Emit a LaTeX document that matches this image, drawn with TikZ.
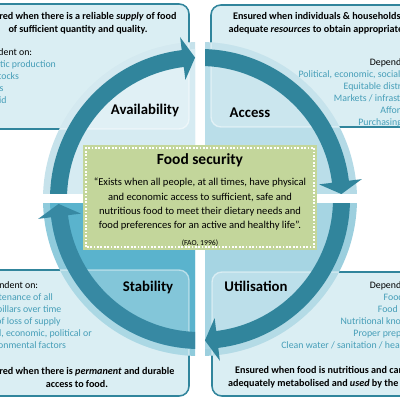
\documentclass[tikz,border=0pt]{standalone}
\usepackage{fontspec}
\setmainfont{Carlito}
\usetikzlibrary{calc}
\definecolor{ringTeal}{HTML}{31859C}
\definecolor{stabTeal}{HTML}{3789A3}
\definecolor{boxFill}{HTML}{DAEEF3}
\definecolor{listTeal}{RGB}{70,158,184}
\definecolor{availFill}{HTML}{D6EBF2}
\definecolor{availHalo}{HTML}{C6E2EB}
\definecolor{accessFill}{HTML}{BAdEE9}
\definecolor{accessHalo}{HTML}{B4DAE6}
\definecolor{utilFill}{HTML}{A6D5E3}
\definecolor{utilHalo}{HTML}{9CCFDE}
\definecolor{stabFill}{HTML}{5AB3CD}
\definecolor{stabHalo}{HTML}{8FCBDC}
\definecolor{fsGreen}{HTML}{C3D69B}

% one quarter of the arrow ring: #1 start angle, #2 end angle (clockwise)
\newcommand{\ringarrow}[3][ringTeal]{%
  \fill[#1] (#2:133) arc[start angle=#2, end angle=#3+7, radius=133]
    -- (#3+7:120) -- (#3+2:141.5) -- (#3+7:163) -- (#3+7:150)
    arc[start angle=#3+7, end angle=#2, radius=150] -- cycle;}

\begin{document}
\begin{tikzpicture}[x=0.025cm, y=0.025cm,
    box/.style={draw=ringTeal, line width=1.1pt, fill=boxFill, rounded corners=7pt},
    glass/.style={draw=white, draw opacity=0.5, line width=1pt, fill=white,
      fill opacity=0.25, rounded corners=7pt},
    head/.style={font=\fontsize{7.2}{9.2}\selectfont\bfseries, align=center, inner sep=0pt},
    dep/.style={font=\fontsize{7}{8.5}\selectfont, inner sep=0pt},
    pillar/.style={font=\fontsize{10.5}{12}\selectfont\bfseries, inner sep=0pt}
  ]
    \useasboundingbox (-200,-201) rectangle (200,199);
    \clip (-200,-201) rectangle (200,199);

    % corner boxes
    \draw[box] (-245,70) rectangle (-11,195);
    \draw[box] (11,72) rectangle (245,194);
    \draw[box] (-245,-197) rectangle (-11,-71);
    \draw[box] (12,-197) rectangle (245,-73);

    % Availability quadrant
    \begin{scope}
      \clip (-200,5) rectangle (-5,199);
      \fill[availHalo] (0,0) circle[radius=157];
      \fill[availFill] (0,0) circle[radius=150];
      \begin{scope}
        \clip (0,0) circle[radius=157];
        \draw[glass] (-245,70) rectangle (-11,195);
      \end{scope}
      \ringarrow{180}{90}
    \end{scope}

    % Access quadrant
    \begin{scope}
      \clip (5,5) rectangle (200,199);
      \fill[accessHalo] (0,0) circle[radius=157];
      \fill[accessFill] (0,0) circle[radius=150];
      \begin{scope}
        \clip (0,0) circle[radius=157];
        \draw[glass] (11,72) rectangle (245,194);
      \end{scope}
      \ringarrow{90}{0}
    \end{scope}

    % Utilisation quadrant
    \begin{scope}
      \clip (5,-5) rectangle (200,-201);
      \fill[utilHalo] (0,0) circle[radius=157];
      \fill[utilFill] (0,0) circle[radius=150];
      \begin{scope}
        \clip (0,0) circle[radius=157];
        \draw[glass] (12,-197) rectangle (245,-73);
      \end{scope}
      \ringarrow{0}{-90}
    \end{scope}

    % Stability quadrant
    \begin{scope}
      \clip (-200,-5) rectangle (-5,-201);
      \fill[stabHalo] (0,0) circle[radius=157];
      \fill[stabFill] (0,0) circle[radius=150];
      \begin{scope}
        \clip (0,0) circle[radius=157];
        \draw[glass] (-245,-197) rectangle (-11,-71);
      \end{scope}
      \ringarrow[stabTeal]{-90}{-180}
    \end{scope}

    % pillar labels
    \node[pillar] (avail) at (-55,89) {Availability};
    \node[pillar] (access) at (50,86) {Access};
    \node[pillar] (util) at (56,-87) {Utilisation};
    \node[pillar] (stab) at (-52,-88) {Stability};

    % box texts
    \node[head] (availHead) at (-122,175.5)
      {Ensured when there is a reliable \textit{supply} of food\\of sufficient quantity and quality.};
    \node[dep, anchor=west, align=left] (availDep) at (-228,122.5)
      {Dependent on:\\\textcolor{listTeal}{Domestic production}\\\textcolor{listTeal}{Food stocks}\\
       \textcolor{listTeal}{Imports}\\\textcolor{listTeal}{Food aid}};

    \node[head] (accessHead) at (128,175.5)
      {Ensured when individuals \& households have\\adequate \textit{resources} to obtain appropriate food.};
    \node[dep, anchor=east, align=right] (accessDep) at (230,106)
      {Dependent on:\\\textcolor{listTeal}{Political, economic, social factors}\\
       \textcolor{listTeal}{Equitable distribution}\\\textcolor{listTeal}{Markets / infrastructure}\\
       \textcolor{listTeal}{Affordability}\\\textcolor{listTeal}{Purchasing power}};

    \node[dep, anchor=west, align=left] (stabDep) at (-222,-116)
      {Dependent on:\\\textcolor{listTeal}{Maintenance of all}\\\textcolor{listTeal}{four pillars over time}\\
       \textcolor{listTeal}{Risk of loss of supply}\\\textcolor{listTeal}{Social, economic, political or}\\
       \textcolor{listTeal}{environmental factors}};
    \node[head] (stabHead) at (-123,-178.5)
      {Ensured when there is \textit{permanent} and durable\\access to food.};

    \node[dep, anchor=east, align=right] (utilDep) at (230,-116)
      {Dependent on:\\\textcolor{listTeal}{Food safety}\\\textcolor{listTeal}{Food choices}\\
       \textcolor{listTeal}{Nutritional knowledge}\\\textcolor{listTeal}{Proper preparation}\\
       \textcolor{listTeal}{Clean water / sanitation / health care}};
    \node[head] (utilHead) at (126,-178)
      {Ensured when food is nutritious and can be\\adequately metabolised and \textit{used} by the body.};

    % food security definition
    \fill[fsGreen] (-117,-51) rectangle (117,54);
    \draw[white, line width=1.2pt, dash pattern=on 1.2pt off 1.2pt] (-114,-48) rectangle (114,51);
    \node[font=\fontsize{11}{13}\selectfont\bfseries, inner sep=0pt] (fsTitle) at (0,39) {Food security};
    \node[font=\fontsize{7.5}{10.2}\selectfont, align=center, inner sep=0pt] (fsDef) at (0,-5.5)
      {“Exists when all people, at all times, have physical\\and economic access to sufficient, safe and\\
       nutritious food to meet their dietary needs and\\food preferences for an active and healthy life”.};
    \node[font=\fontsize{5.5}{6}\selectfont, inner sep=0pt] (fsSrc) at (0,-44) {(FAO, 1996)};
\end{tikzpicture}
\end{document}
